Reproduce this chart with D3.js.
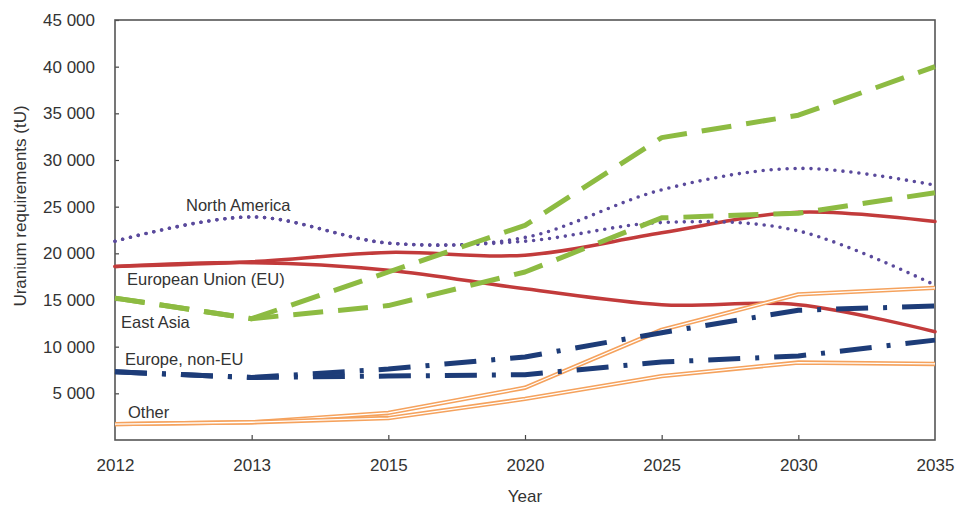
<!DOCTYPE html>
<html>
<head>
<meta charset="utf-8">
<script src="https://cdn.jsdelivr.net/npm/d3@7"></script>
<style>
  body { margin: 0; background: #fff; }
  text { font-family: "Liberation Sans", Arial, sans-serif; fill: #333; }
</style>
</head>
<body>
<div id="chart"></div>
<script>
(function() {
  var years, yTicks, naHigh, naLow, euHigh, euLow, eaHigh, eaLow, enHigh, enLow, otHigh, otLow;
  var width, height, margin, svg, x, y, fmt, smooth, straight, series, labels;

  years = ["2012", "2013", "2015", "2020", "2025", "2030", "2035"];
  yTicks = [5000, 10000, 15000, 20000, 25000, 30000, 35000, 40000, 45000];

  // North America (dotted)
  naHigh = [21300, 23900, 21100, 21700, 26800, 29100, 27300];
  naLow = [21300, 23900, 21100, 21300, 23300, 22400, 16600];
  // European Union (solid)
  euHigh = [18600, 19100, 20100, 19800, 22200, 24400, 23400];
  euLow = [18600, 19000, 18200, 16200, 14500, 14500, 11600];
  // East Asia (dashed)
  eaHigh = [15200, 13000, 18000, 23000, 32400, 34800, 40000];
  eaLow = [15200, 13000, 14400, 18000, 23800, 24300, 26500];
  // Europe, non-EU (dash-dot)
  enHigh = [7300, 6700, 7600, 8900, 11500, 13900, 14350];
  enLow = [7300, 6700, 6850, 7000, 8350, 9000, 10700];
  // Other (double line)
  otHigh = [1700, 1900, 2900, 5600, 11800, 15600, 16300];
  otLow = [1700, 1900, 2350, 4400, 6850, 8300, 8150];

  labels = [
    { text: "North America", x: 186, y: 211 },
    { text: "European Union (EU)", x: 127, y: 285 },
    { text: "East Asia", x: 121, y: 328 },
    { text: "Europe, non-EU", x: 125, y: 365 },
    { text: "Other", x: 128, y: 418 }
  ];

  width = 956;
  height = 508;
  margin = { top: 20, right: 21, bottom: 68, left: 115 };

  svg = d3.select("#chart").append("svg")
    .attr("width", width).attr("height", height);

  x = d3.scalePoint().domain(years).range([margin.left, width - margin.right]);
  y = d3.scaleLinear().domain([0, 45000]).range([height - margin.bottom, margin.top]);

  fmt = d3.formatLocale({ decimal: ".", thousands: " ", grouping: [3], currency: ["", ""] }).format(",");

  // axes
  svg.append("g")
    .attr("transform", "translate(" + margin.left + ",0)")
    .call(d3.axisLeft(y).tickValues(yTicks).tickFormat(fmt).tickSize(-4).tickPadding(20))
    .call(function(g) {
      g.select(".domain").remove();
      g.selectAll(".tick line").attr("stroke", "#444").attr("stroke-width", 1.2);
      g.selectAll(".tick text").attr("font-size", 17).attr("fill", "#333");
    });

  svg.append("g")
    .attr("transform", "translate(0," + y(0) + ")")
    .call(d3.axisBottom(x).tickSize(-5).tickPadding(19))
    .call(function(g) {
      g.select(".domain").remove();
      g.selectAll(".tick line").attr("stroke", "#444").attr("stroke-width", 1.2)
        .attr("display", function(d) { return (d === "2012" || d === "2035") ? "none" : null; });
      g.selectAll(".tick text").attr("font-size", 17).attr("fill", "#333");
    });

  svg.append("rect")
    .attr("x", margin.left).attr("y", margin.top)
    .attr("width", width - margin.left - margin.right)
    .attr("height", height - margin.top - margin.bottom)
    .attr("fill", "none").attr("stroke", "#555").attr("stroke-width", 1.6);

  svg.append("text")
    .attr("x", (margin.left + width - margin.right) / 2).attr("y", 502)
    .attr("text-anchor", "middle").attr("font-size", 17)
    .text("Year");

  svg.append("text")
    .attr("transform", "translate(26,206) rotate(-90)")
    .attr("text-anchor", "middle").attr("font-size", 17)
    .text("Uranium requirements (tU)");

  smooth = d3.line().x(function(d, i) { return x(years[i]); }).y(function(d) { return y(d); })
    .curve(d3.curveCardinal.tension(0));
  straight = d3.line().x(function(d, i) { return x(years[i]); }).y(function(d) { return y(d); });

  series = [
    { data: [euHigh, euLow], line: smooth, color: "#c23b3b", w: 3.5, dash: null, cap: "round" },
    { data: [naHigh, naLow], line: smooth, color: "#5a4a9c", w: 3.6, dash: "0 8", cap: "round" },
    { data: [eaHigh, eaLow], line: straight, color: "#8dbb42", w: 5, dash: "30 15", cap: "butt" },
    { data: [otHigh, otLow], line: straight, color: "#f5a25d", w: 4.4, dash: null, cap: "butt", dbl: true },
    { data: [enHigh, enLow], line: straight, color: "#1d3c78", w: 5, dash: "32 15 4 15", cap: "butt" }
  ];

  series.forEach(function(s) {
    s.data.forEach(function(vals) {
      svg.append("path")
        .attr("d", s.line(vals))
        .attr("fill", "none")
        .attr("stroke", s.color)
        .attr("stroke-width", s.w)
        .attr("stroke-dasharray", s.dash)
        .attr("stroke-linecap", s.cap)
        .attr("stroke-linejoin", "round");
      if (s.dbl) {
        svg.append("path")
          .attr("d", s.line(vals))
          .attr("fill", "none")
          .attr("stroke", "#fff")
          .attr("stroke-width", 1.3)
          .attr("stroke-linejoin", "round");
      }
    });
  });

  svg.selectAll(".region-label").data(labels).enter().append("text")
    .attr("class", "region-label")
    .attr("x", function(d) { return d.x; })
    .attr("y", function(d) { return d.y; })
    .attr("font-size", 16.5)
    .text(function(d) { return d.text; });

}).call(this);
</script>
</body>
</html>
